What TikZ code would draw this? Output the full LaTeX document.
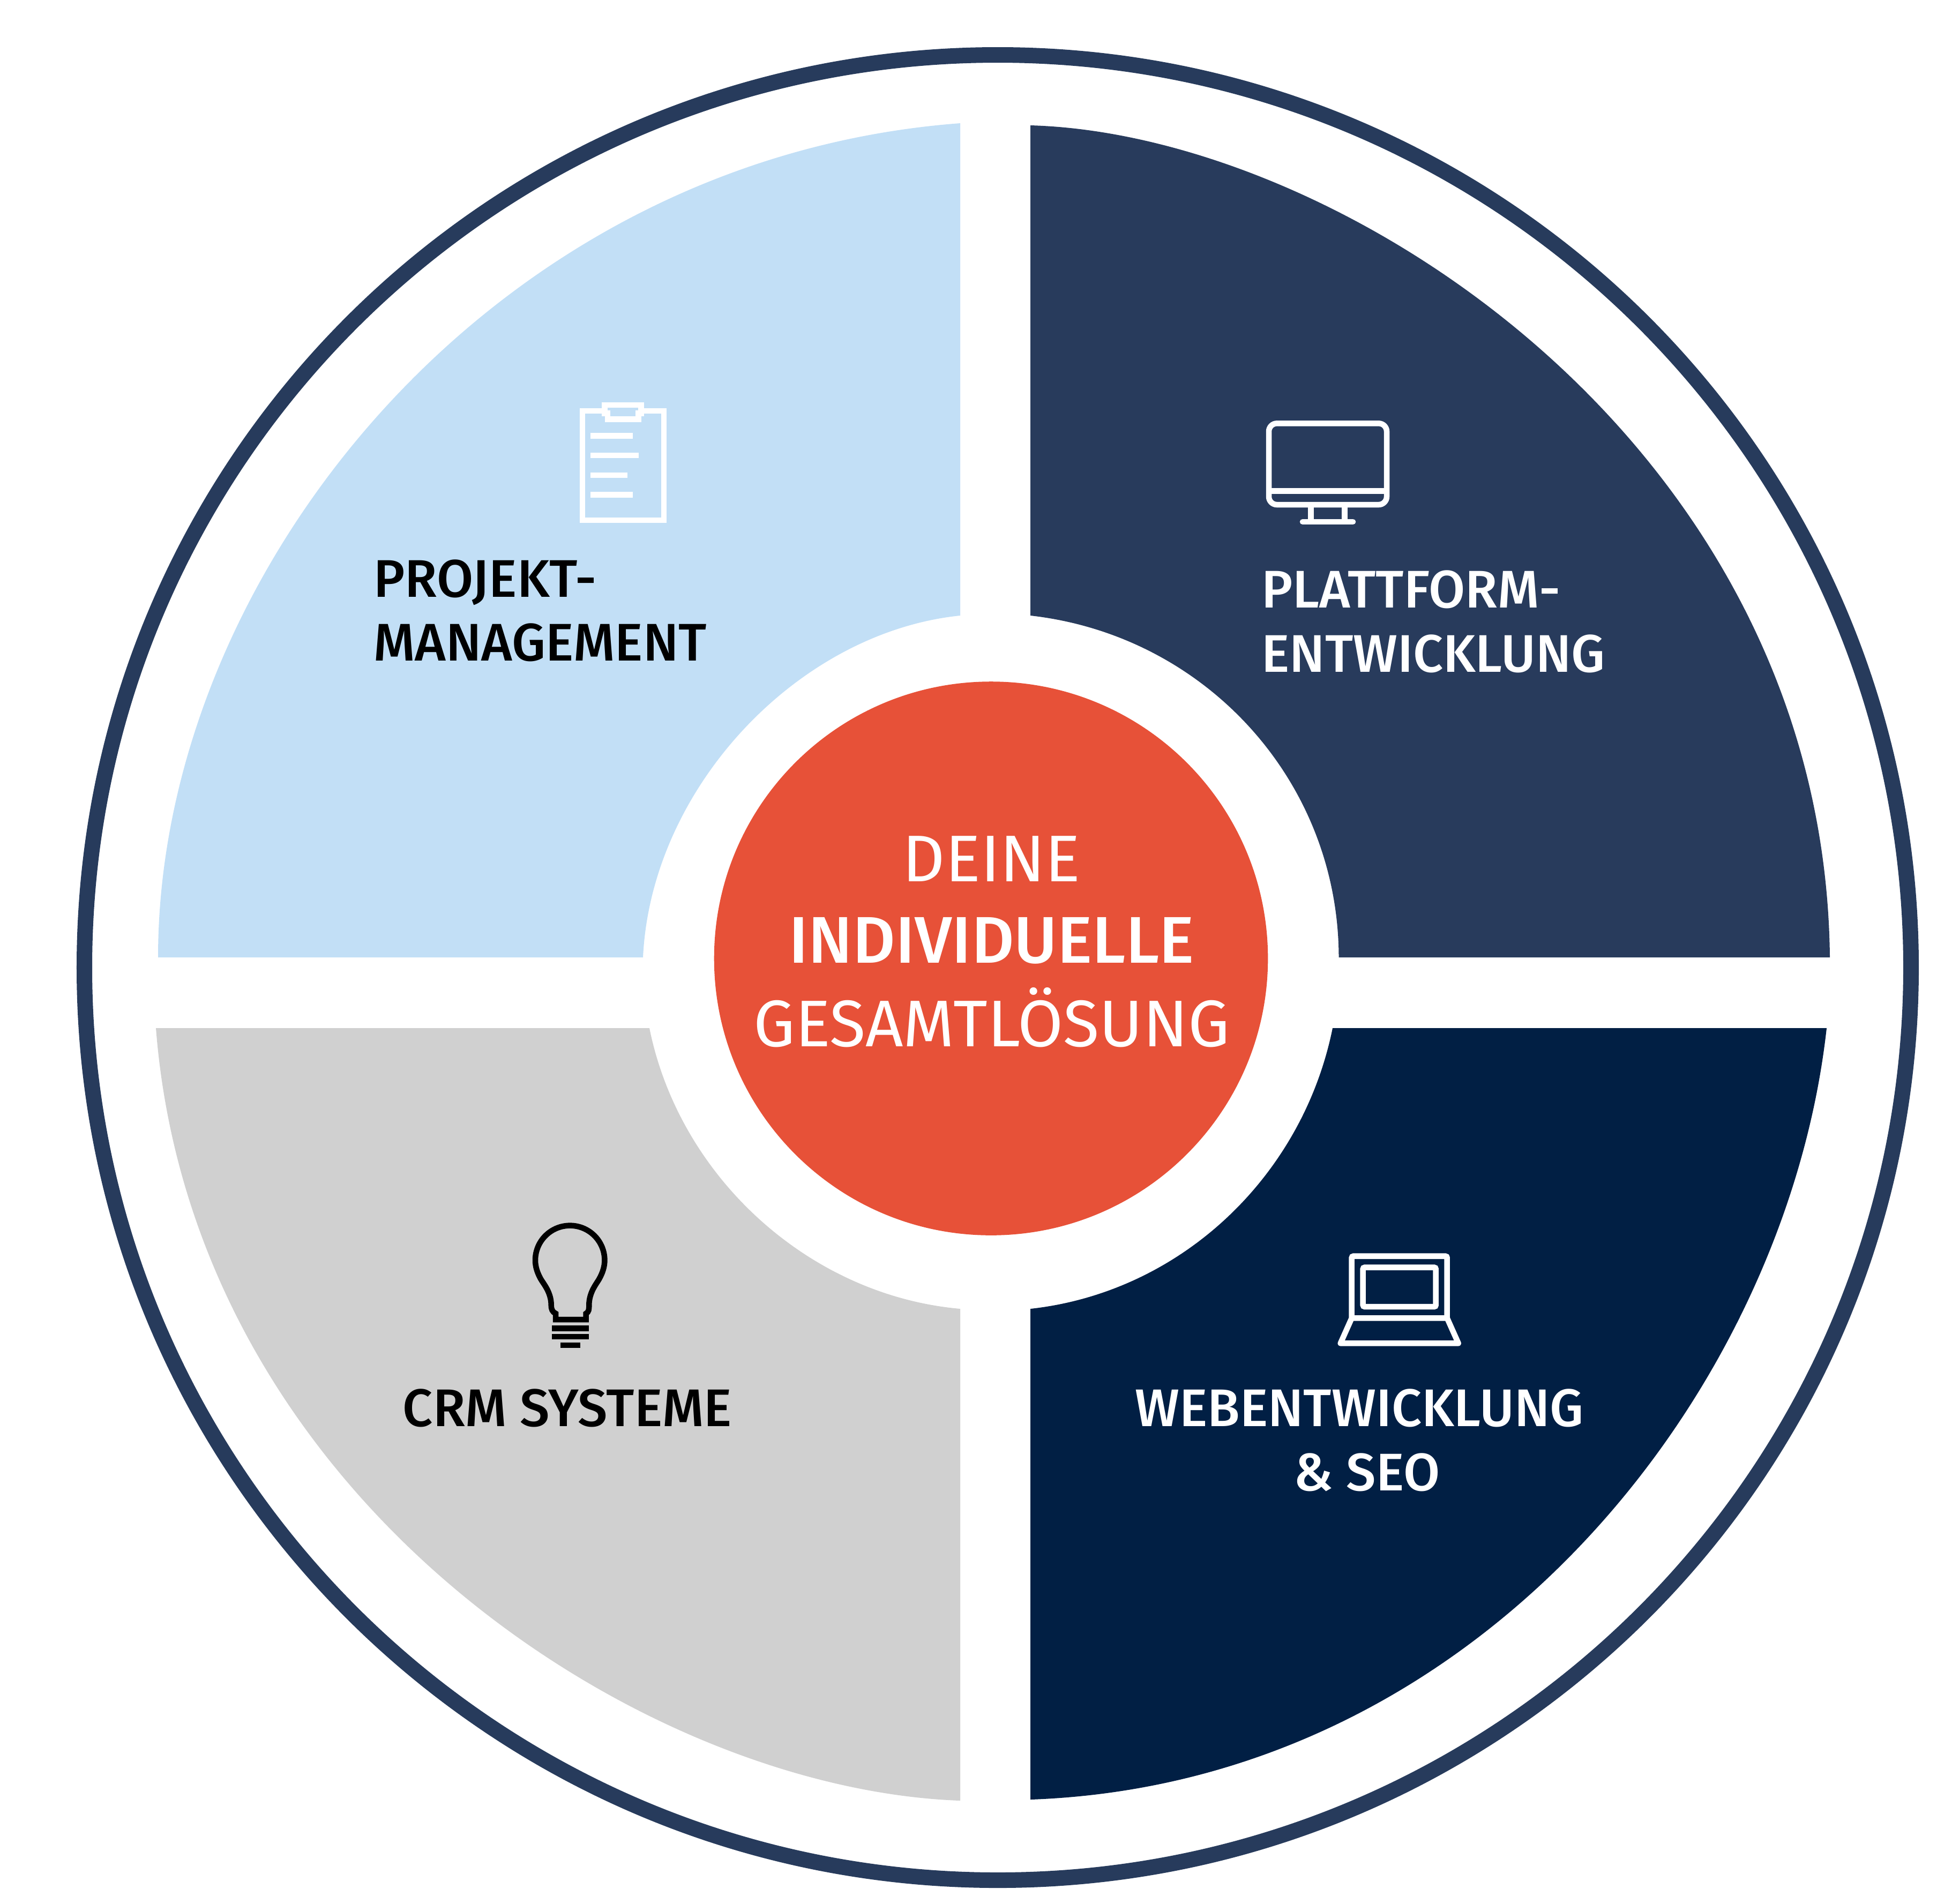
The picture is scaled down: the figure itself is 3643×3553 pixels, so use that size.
\documentclass[tikz,border=0pt]{standalone}
\usepackage{fontspec}
\setmainfont{Fira Sans}
\newfontfamily\firamed{Fira Sans Medium}
\definecolor{ringblue}{HTML}{273B5C}
\definecolor{lightsec}{HTML}{C2DFF6}
\definecolor{platsec}{HTML}{283B5C}
\definecolor{websec}{HTML}{011F44}
\definecolor{graysec}{HTML}{D0D0D0}
\definecolor{redcore}{HTML}{E75138}
\tikzset{
  iconw/.style={draw=white, line width=0.105cm},
  iconk/.style={draw=black, line width=0.105cm},
  lbl/.style={inner sep=0pt, font=\firamed\fontsize{28.1}{28.1}\selectfont},
  corelbl/.style={inner sep=0pt, anchor=base, text=white, font=\rmfamily\fontsize{35}{35}\selectfont},
}
\begin{document}
\begin{tikzpicture}[x=0.01cm,y=-0.01cm]
\useasboundingbox (0,0) rectangle (3643,3553);
\draw[ringblue, line width=0.29cm] (1862,1806) ellipse[x radius=1704.5, y radius=1703.5];
% quarters
\fill[lightsec] (295,1787) .. controls (295,1071) and (916,296) .. (1792,230) -- (1792,1149) .. controls (1490,1180) and (1215,1470) .. (1200,1787) -- cycle;
\fill[platsec] (1923,234) .. controls (2500,250) and (3405,830) .. (3415,1787) -- (2498.5,1787) .. controls (2498,1458) and (2250,1186) .. (1923,1149) -- cycle;
\fill[websec] (3409,1919) .. controls (3334,2594) and (2764,3329) .. (1923,3359) -- (1923,2443) .. controls (2204,2412) and (2431,2196) .. (2487,1919) -- cycle;
\fill[graysec] (291,1919) .. controls (360,2800) and (1200,3340) .. (1792,3361) -- (1792,2443) .. controls (1510,2418) and (1268,2197) .. (1212,1919) -- cycle;
\node[circle, fill=redcore, inner sep=0pt, minimum size=10.33cm] (core) at (1849.5,1789) {};
% clipboard
\draw[iconw] (1128.7,767) -- (1087,767) -- (1087,971) -- (1239,971) -- (1239,767) -- (1196.7,767);
\draw[iconw] (1128.7,756) -- (1196.7,756) -- (1196.7,771.7) -- (1191.7,771.7) -- (1191.7,782.3) -- (1134,782.3) -- (1134,771.7) -- (1128.7,771.7) -- cycle;
\draw[iconw] (1102,813.7) -- (1181,813.7);
\draw[iconw] (1102,850) -- (1192,850);
\draw[iconw] (1102,887) -- (1171,887);
\draw[iconw] (1102,923.7) -- (1181,923.7);
% monitor
\draw[iconw, rounded corners=0.15cm] (2368,790.3) rectangle (2588,942);
\draw[iconw] (2368,916.3) -- (2588,916.3);
\draw[iconw] (2446.3,942) -- (2446.3,974);
\draw[iconw] (2509.3,942) -- (2509.3,974);
\draw[iconw, line cap=round] (2431,974) -- (2525,974);
% bulb
\draw[iconk] (1037,2463) -- (1037,2451.7) .. controls (1031,2449) and (1028.7,2444) .. (1028.7,2436) .. controls (1028.7,2412) and (1014,2396) .. (1009,2387) .. controls (1003,2376) and (999,2365) .. (999,2352.3) .. controls (999,2316.6) and (1028,2287.6) .. (1063.7,2287.6) .. controls (1099.4,2287.6) and (1128.4,2316.6) .. (1128.4,2352.3) .. controls (1128.4,2365) and (1124.4,2376) .. (1118.4,2387) .. controls (1113.4,2396) and (1099.3,2412) .. (1099.3,2436) .. controls (1099.3,2444) and (1099,2449) .. (1093.7,2451.7) -- (1093.7,2463) -- cycle;
\draw[iconk] (1030.3,2479.3) -- (1098.7,2479.3);
\draw[iconk] (1030.3,2494.8) -- (1098.7,2494.8);
\draw[iconk] (1046,2510.7) -- (1083,2510.7);
% laptop
\draw[iconw, rounded corners=0.03cm] (2522.7,2460.3) -- (2522.7,2344.7) -- (2700.7,2344.7) -- (2700.7,2460.3) -- cycle;
\draw[iconw, rounded corners=0.03cm] (2543.7,2365.7) rectangle (2679.7,2439);
\draw[iconw, line join=round] (2522.7,2460.3) -- (2501.7,2507.3) -- (2721.7,2507.3) -- (2700.7,2460.3);
% labels
\node[lbl, anchor=base west] (proj1) at (696.5,1114.6) {PROJEKT-};
\node[lbl, anchor=base west] (proj2) at (696.5,1233) {MANAGEMENT};
\node[lbl, anchor=base west, text=white] (plat1) at (2353.5,1134.5) {PLATTFORM-};
\node[lbl, anchor=base west, text=white] (plat2) at (2353.5,1254) {ENTWICKLUNG};
\node[lbl, anchor=base] (crm) at (1059,2662) {CRM SYSTEME};
\node[lbl, anchor=base, text=white] (web1) at (2537,2662) {WEBENTWICKLUNG};
\node[lbl, anchor=base, text=white] (web2) at (2551,2782) {\& SEO};
\node[corelbl] (core1) at (1850.6,1645) {DEINE};
\node[corelbl, font=\firamed\fontsize{35}{35}\selectfont] (core2) at (1850.6,1797.5) {INDIVIDUELLE};
\node[corelbl] (core3) at (1850.6,1953) {GESAMTLÖSUNG};
\end{tikzpicture}
\end{document}
